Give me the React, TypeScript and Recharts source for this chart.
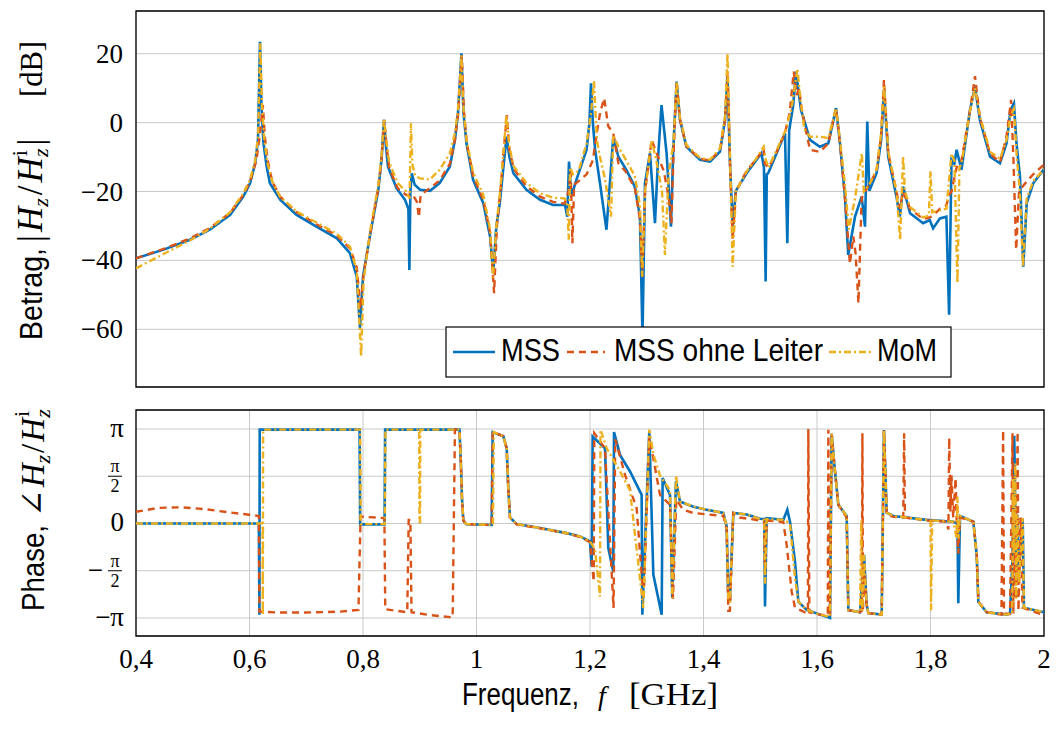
import React from 'react';
import { LineChart, Line, XAxis, YAxis, CartesianGrid, ReferenceArea } from 'recharts';

// ---------- data ----------
const X_TICKS = [0.4, 0.6, 0.8, 1, 1.2, 1.4, 1.6, 1.8, 2];
const X_TICK_LABELS = ['0,4', '0,6', '0,8', '1', '1,2', '1,4', '1,6', '1,8', '2'];
const MAG_TICKS = [-60, -40, -20, 0, 20];
const MAG_TICK_LABELS = ['−60', '−40', '−20', '0', '20'];
const PHASE_TICKS = [-Math.PI, -Math.PI / 2, 0, Math.PI / 2, Math.PI];
const PHASE_TICK_LABELS = ['−π', '−π/2', '0', 'π/2', 'π'];
const SERIES_NAMES = ['MSS', 'MSS ohne Leiter', 'MoM'];

// magnitude [f GHz, dB]
const MSS_MAG: number[][] = [
  [0.40,-39.4],[0.45,-36.8],[0.495,-34.0],[0.53,-31.1],[0.566,-26.8],[0.589,-21.5],[0.601,-17.6],[0.610,-11.8],[0.615,-5],[0.6185,23.5],[0.621,5],[0.6247,-6.0],[0.63,-12.5],[0.636,-17.6],[0.654,-22.4],[0.683,-26.8],[0.718,-30.2],[0.754,-33.6],[0.777,-37.9],[0.789,-44.7],[0.7947,-59.7],[0.800,-44.7],[0.812,-33.1],[0.827,-19.5],[0.833,-10],[0.837,0.8],[0.840,-6],[0.844,-12.8],[0.859,-19.0],[0.874,-22.4],[0.880,-25],[0.8817,-42.8],[0.8835,-20],[0.886,-14.7],[0.891,-18],[0.9004,-19.5],[0.918,-19.8],[0.935,-17.6],[0.953,-12.8],[0.962,-5],[0.9675,3],[0.9735,20.1],[0.977,3],[0.9823,-6.0],[0.994,-16.6],[1.012,-23.4],[1.024,-33.1],[1.0295,-43.7],[1.035,-30],[1.041,-23.4],[1.048,-12],[1.053,-4.1],[1.058,-10],[1.065,-14.7],[1.088,-19.5],[1.112,-22.4],[1.135,-23.9],[1.156,-23.9],[1.160,-27.3],[1.163,-11.3],[1.167,-21.5],[1.176,-16.6],[1.194,-7.9],[1.199,0],[1.2017,11.4],[1.205,0],[1.209,-7.9],[1.2176,-17.6],[1.229,-31.1],[1.235,-17.6],[1.241,-4.1],[1.250,-9.9],[1.264,-13.7],[1.279,-18.6],[1.288,-27.3],[1.2925,-62],[1.2969,-17.6],[1.3057,-8.9],[1.3145,-29.2],[1.320,-10],[1.326,5.1],[1.335,-8.9],[1.3427,-30.2],[1.3467,-7.9],[1.3526,11.9],[1.3585,0.8],[1.370,-7.0],[1.394,-10.8],[1.4115,-11.3],[1.429,-8.4],[1.438,0.8],[1.4423,13.4],[1.4467,-11.8],[1.4514,-30.2],[1.457,-19.8],[1.476,-14.7],[1.4935,-10.8],[1.502,-8.9],[1.5065,-13],[1.5095,-46.1],[1.5115,-15],[1.514,-14.7],[1.5288,-8.9],[1.5436,-3.1],[1.5477,-35.0],[1.551,-2.2],[1.558,5],[1.563,14.8],[1.5718,3.7],[1.5877,-5.0],[1.605,-7.0],[1.620,-6.0],[1.6335,4.2],[1.6405,-6.0],[1.6493,-21.5],[1.655,-38.4],[1.667,-27.3],[1.6787,-21.5],[1.6846,-30.2],[1.6886,0.3],[1.6922,-19.8],[1.705,-14.7],[1.713,-5],[1.718,9.5],[1.7256,-9.9],[1.740,-21.5],[1.746,-27.3],[1.7517,-18.6],[1.764,-26.3],[1.787,-29.2],[1.7986,-28.3],[1.8046,-30.7],[1.8166,-27.8],[1.828,-27.3],[1.8328,-55.8],[1.837,-10.8],[1.842,-12],[1.846,-7.9],[1.8546,-13.7],[1.8696,3.7],[1.8784,10.4],[1.887,0.8],[1.905,-9.9],[1.9225,-11.8],[1.934,-6.0],[1.941,3.7],[1.947,5.6],[1.9515,-6.0],[1.9577,-15.7],[1.9635,-41.8],[1.9695,-23.4],[1.981,-17.6],[2.0,-13.5],
];
const MSS_OL_MAG: number[][] = [
  [0.40,-39.4],[0.45,-36.6],[0.495,-33.6],[0.53,-30.6],[0.566,-26.2],[0.589,-21],[0.601,-17],[0.612,-11],[0.618,-4],[0.6235,5.1],[0.627,-4],[0.632,-11],[0.64,-17],[0.654,-21.5],[0.683,-26],[0.718,-29.5],[0.754,-32.8],[0.777,-36.5],[0.789,-42],[0.7955,-54],[0.801,-44],[0.812,-33],[0.827,-19],[0.833,-10],[0.8375,0.8],[0.841,-6],[0.846,-13],[0.861,-19],[0.876,-21],[0.888,-21],[0.895,-23],[0.8985,-27.5],[0.9015,-21],[0.918,-19],[0.935,-16.8],[0.953,-12],[0.962,-5],[0.968,3],[0.974,19.5],[0.978,3],[0.983,-6],[0.994,-15.5],[1.012,-22.5],[1.024,-32],[1.031,-49.5],[1.036,-30],[1.042,-20],[1.048,-8],[1.0535,2.2],[1.058,-8],[1.066,-13.5],[1.088,-18.5],[1.112,-21.5],[1.135,-23],[1.155,-23.5],[1.162,-20],[1.166,-14],[1.169,-35],[1.172,-18],[1.18,-17],[1.194,-15],[1.205,-11],[1.212,-3],[1.218,3],[1.225,7.1],[1.232,-1],[1.241,-3.1],[1.250,-11.8],[1.262,-14],[1.279,-19],[1.288,-28],[1.292,-44.7],[1.297,-20],[1.3087,-5.0],[1.32,-10],[1.33,-14],[1.339,-22],[1.3435,-29.2],[1.347,-10],[1.3526,12],[1.3585,0.8],[1.370,-7],[1.394,-10.5],[1.4115,-11],[1.429,-8],[1.438,0.8],[1.4423,15],[1.4467,-11.8],[1.4514,-34],[1.457,-20],[1.476,-14],[1.4935,-10.5],[1.500,-9],[1.506,-7.5],[1.508,-12],[1.515,-13],[1.5288,-8.5],[1.5436,-3],[1.552,3],[1.559,14.8],[1.564,8],[1.5687,10],[1.572,5],[1.58,-2],[1.5877,-7.9],[1.605,-8.5],[1.620,-6],[1.6335,4.2],[1.6405,-6],[1.6493,-22],[1.658,-41],[1.664,-33],[1.668,-38],[1.673,-52.4],[1.6787,-22],[1.6846,-20],[1.6922,-18],[1.705,-14],[1.713,-4],[1.718,12.4],[1.7256,-9],[1.740,-20],[1.746,-25],[1.7517,-20],[1.764,-25],[1.787,-28],[1.7986,-27.5],[1.8046,-27],[1.8166,-25],[1.828,-24],[1.833,-21],[1.837,-20],[1.846,-13],[1.8546,-11],[1.8696,3.5],[1.8784,13.5],[1.887,1.5],[1.905,-9],[1.9225,-11.5],[1.934,-4],[1.942,6.6],[1.946,-10],[1.951,-36.9],[1.956,-20],[1.965,-18],[1.981,-15],[2.0,-12.2],
];
const MOM_MAG: number[][] = [
  [0.40,-42.3],[0.45,-38],[0.495,-34.2],[0.53,-30.8],[0.566,-26],[0.589,-20.5],[0.601,-16.5],[0.610,-11],[0.615,-4],[0.619,23],[0.622,5],[0.626,-5],[0.632,-12],[0.64,-17],[0.654,-21.5],[0.683,-25.8],[0.718,-29],[0.754,-32.3],[0.777,-36],[0.789,-43],[0.7967,-67.9],[0.801,-46],[0.812,-32],[0.827,-18],[0.833,-9],[0.837,1.2],[0.841,-5],[0.846,-11.5],[0.861,-17.5],[0.876,-20],[0.882,-22],[0.8845,-0.2],[0.887,-12],[0.892,-15.5],[0.9004,-16.2],[0.918,-16.5],[0.935,-13.7],[0.953,-9],[0.962,-3],[0.9675,4],[0.9735,19.5],[0.977,4],[0.9823,-5],[0.994,-14.5],[1.012,-21],[1.024,-31],[1.029,-45],[1.035,-30],[1.041,-21],[1.048,-8],[1.0525,2.2],[1.058,-7],[1.065,-12.5],[1.088,-17.5],[1.112,-20.5],[1.135,-21.8],[1.155,-22],[1.160,-24],[1.1625,-34],[1.165,-13],[1.17,-15],[1.18,-14],[1.194,-6],[1.202,3],[1.207,12.2],[1.212,-5],[1.2176,-10],[1.226,-16],[1.237,-27.3],[1.241,-3.6],[1.250,-7],[1.264,-11],[1.279,-15.5],[1.288,-24],[1.292,-44.7],[1.2969,-20],[1.3087,-5.0],[1.318,-12],[1.327,-20],[1.332,-38.4],[1.3385,-15],[1.347,-6],[1.3526,12],[1.3585,1.5],[1.370,-6.5],[1.394,-10.3],[1.4115,-10.8],[1.429,-7.5],[1.438,2],[1.4423,20],[1.4467,-10],[1.4514,-41.8],[1.457,-20],[1.476,-14.2],[1.4935,-10.3],[1.500,-8.5],[1.506,-7],[1.510,-11],[1.515,-13],[1.5288,-8],[1.5436,-2.6],[1.555,4],[1.5655,15.7],[1.57,8],[1.5777,-2],[1.5877,-4.1],[1.605,-4.1],[1.620,-4.5],[1.6335,4.2],[1.6405,-5],[1.6493,-18],[1.656,-31],[1.667,-22],[1.679,-8.9],[1.6825,-20],[1.6922,-18],[1.705,-13.5],[1.713,-3],[1.718,10.5],[1.7256,-8.5],[1.740,-20],[1.7465,-34],[1.7517,-9.7],[1.755,-20],[1.764,-24.5],[1.787,-27.5],[1.797,-27],[1.800,-14.1],[1.803,-26],[1.8166,-25.5],[1.828,-25],[1.837,-9],[1.842,-11],[1.8475,-46.6],[1.851,-13],[1.8546,-12],[1.8696,3.5],[1.8784,10],[1.887,2],[1.905,-8.5],[1.9225,-10.5],[1.934,-5],[1.941,2],[1.947,4],[1.952,-10],[1.9575,-20],[1.963,-41.8],[1.9695,-22],[1.981,-17],[2.0,-13.5],
];

// phase [f GHz, rad]
const MSS_PH: number[][] = [
  [0.40,0],[0.6165,0],[0.6175,-3.03],[0.618,3.12],[0.794,3.12],[0.795,-0.03],[0.838,-0.03],[0.839,3.12],[0.970,3.12],[0.9725,2.0],[0.9745,0.8],[0.9768,0.1],[0.982,-0.02],[1.0267,-0.05],[1.0285,3.04],[1.0473,2.9],[1.0532,2.5],[1.056,1.18],[1.059,0.2],[1.0708,-0.02],[1.1119,-0.15],[1.159,-0.32],[1.1824,-0.43],[1.1942,-0.54],[1.2,-0.6],[1.203,-1.43],[1.2047,2.89],[1.2264,2.5],[1.2323,-0.82],[1.241,-1.6],[1.2423,3.04],[1.2529,2.28],[1.2705,1.73],[1.291,0.95],[1.2922,-3.03],[1.3045,3.07],[1.3116,-1.7],[1.3263,-3.03],[1.328,1.51],[1.341,0.95],[1.345,-2.48],[1.3515,1.4],[1.3586,0.73],[1.382,0.56],[1.4056,0.46],[1.4349,0.35],[1.4408,-0.1],[1.4437,-2.5],[1.4465,-2.5],[1.4525,0.35],[1.4761,0.3],[1.4996,0.16],[1.507,0.15],[1.5084,-2.76],[1.5113,0.18],[1.5406,0.12],[1.5477,0.46],[1.5524,0.06],[1.5612,-1.26],[1.5671,-2.6],[1.5818,-2.87],[1.6053,-3.03],[1.6229,-3.14],[1.6258,2.98],[1.6317,1.73],[1.6376,0.62],[1.6523,0.25],[1.6552,-2.88],[1.6758,-2.95],[1.6829,-1.04],[1.6875,-2.7],[1.6905,-2.98],[1.714,-3.03],[1.718,3.11],[1.7228,0.36],[1.7345,0.25],[1.7932,0.12],[1.8402,0.06],[1.8475,0.0],[1.849,-2.65],[1.852,0.25],[1.8755,0.06],[1.8814,-1.04],[1.8843,-2.6],[1.899,-2.95],[1.9343,-3.03],[1.9401,-3.0],[1.9445,-1.2],[1.9476,2.92],[1.9495,0.2],[1.951,-2.0],[1.953,0.3],[1.956,-1.5],[1.9624,0.18],[1.9647,-2.8],[2.0,-2.95],
];
const MSS_OL_PH: number[][] = [
  [0.40,0.39],[0.44,0.52],[0.48,0.54],[0.52,0.48],[0.56,0.38],[0.60,0.29],[0.6165,0.25],[0.6175,-2.93],[0.65,-2.96],[0.70,-2.96],[0.76,-2.93],[0.792,-2.87],[0.7957,0.23],[0.8377,0.18],[0.8392,-2.85],[0.878,-2.95],[0.8805,0.12],[0.8835,0.12],[0.8855,-2.95],[0.92,-3.05],[0.958,-3.12],[0.962,3.13],[0.970,3.12],[0.9725,2.0],[0.9745,0.8],[0.9768,0.1],[0.982,-0.02],[1.0267,-0.05],[1.0285,3.04],[1.0473,2.9],[1.0532,2.5],[1.056,1.18],[1.059,0.2],[1.0708,-0.03],[1.1119,-0.16],[1.159,-0.33],[1.1824,-0.45],[1.1942,-0.56],[1.2,-0.62],[1.2065,-1.93],[1.2076,3.0],[1.2264,2.5],[1.2415,-2.81],[1.2445,2.8],[1.262,1.6],[1.2822,0.51],[1.2945,-2.55],[1.3045,2.9],[1.3233,0.95],[1.341,0.62],[1.3462,-2.5],[1.352,0.8],[1.364,0.46],[1.382,0.35],[1.4349,0.25],[1.4408,-0.2],[1.4437,-2.9],[1.4465,-2.9],[1.4525,0.35],[1.464,0.2],[1.4996,0.1],[1.507,0.05],[1.5084,-1.7],[1.5113,0.1],[1.5406,0.05],[1.5465,-0.71],[1.5554,-2.26],[1.5612,-2.8],[1.5788,-2.95],[1.584,-2.95],[1.5847,3.14],[1.5865,-2.95],[1.6053,-3.03],[1.619,-3.05],[1.620,3.12],[1.6215,-3.05],[1.6229,-3.1],[1.6258,2.98],[1.6317,1.73],[1.6376,0.62],[1.6523,0.2],[1.6552,-2.88],[1.6758,-2.95],[1.679,-2.9],[1.680,3.0],[1.681,-2.9],[1.6829,-1.5],[1.6875,-2.7],[1.6905,-2.98],[1.714,-3.03],[1.718,3.11],[1.7228,0.3],[1.7345,0.22],[1.752,0.2],[1.7535,3.0],[1.755,0.2],[1.7932,0.1],[1.828,0.06],[1.8315,-0.2],[1.833,2.85],[1.835,0.4],[1.837,1.6],[1.840,0.2],[1.8442,1.5],[1.846,0.15],[1.849,-1.0],[1.852,0.2],[1.8755,0.06],[1.8814,-1.04],[1.8843,-2.6],[1.899,-2.95],[1.925,-3.03],[1.928,3.1],[1.9295,-3.0],[1.9401,-3.0],[1.9445,3.0],[1.946,-3.0],[1.948,0.5],[1.9505,-2.5],[1.9535,3.05],[1.955,-2.9],[1.959,0.2],[1.962,-2.8],[2.0,-3.05],
];
const MOM_PH: number[][] = [
  [0.40,0],[0.623,0],[0.6235,-3.05],[0.624,3.12],[0.795,3.12],[0.796,-0.02],[0.8385,-0.02],[0.8395,3.12],[0.899,3.12],[0.8995,0.05],[0.9005,0.05],[0.901,3.12],[0.970,3.12],[0.9725,2.0],[0.9745,0.8],[0.9768,0.1],[0.982,-0.02],[1.029,-0.05],[1.0305,3.04],[1.0473,2.9],[1.0532,2.5],[1.056,1.18],[1.059,0.2],[1.0708,-0.02],[1.1119,-0.15],[1.159,-0.32],[1.1824,-0.43],[1.1942,-0.54],[1.2,-0.6],[1.2088,-0.85],[1.2176,-2.43],[1.2185,3.12],[1.2294,2.5],[1.2529,1.73],[1.2705,1.1],[1.2939,-2.81],[1.3045,3.12],[1.3116,2.3],[1.3233,1.6],[1.341,1.1],[1.345,-2.48],[1.3515,1.6],[1.3586,0.73],[1.382,0.56],[1.4056,0.46],[1.4349,0.35],[1.4408,-0.1],[1.4437,-2.6],[1.4465,-2.6],[1.4525,0.35],[1.4761,0.3],[1.4996,0.15],[1.507,0.12],[1.5084,-2.0],[1.5113,0.15],[1.5406,0.12],[1.5524,0.0],[1.5612,-1.8],[1.5671,-2.6],[1.5818,-2.87],[1.6053,-3.03],[1.6229,-3.1],[1.6258,2.98],[1.6317,1.73],[1.6376,0.62],[1.6523,0.25],[1.6552,-2.88],[1.6758,-2.95],[1.678,0.1],[1.680,-2.9],[1.6829,-1.04],[1.6875,-2.7],[1.6905,-2.98],[1.714,-3.03],[1.718,3.11],[1.7228,0.36],[1.7345,0.25],[1.800,0.1],[1.801,-2.88],[1.803,0.1],[1.8402,0.06],[1.846,-0.5],[1.8475,0.9],[1.849,-0.5],[1.852,0.25],[1.8755,0.06],[1.8814,-1.04],[1.8843,-2.6],[1.899,-2.95],[1.9343,-3.03],[1.944,-3.0],[1.9455,1.5],[1.947,-1.0],[1.9495,2.0],[1.951,-2.5],[1.953,0.3],[1.956,-2.0],[1.9624,0.18],[1.9647,-2.8],[2.0,-2.95],
];

// ---------- style ----------
const C_BLUE = '#0072BD';
const C_RED = '#D95319';
const C_YEL = '#EDB120';
const SERIF = '"Liberation Serif", "DejaVu Serif", serif';
const SANS = '"Liberation Sans", Arial, sans-serif';
const GRID = '#c9c9c9';
const X_DOMAIN: [number, number] = [0.4, 2];
const MAG_DOMAIN: [number, number] = [-76.75, 32.4];
const PH_DOMAIN: [number, number] = [-3.74, 3.773];

const toPts = (a: number[][]) => a.map(([f, v]) => ({ f, v }));

const MagTick = (props: any) => {
  const { x, y, payload } = props;
  const i = MAG_TICKS.indexOf(payload.value);
  return (
    <text x={x - 13} y={y + 9} textAnchor="end" fontFamily={SERIF} fontSize={27} fill="#000">
      {MAG_TICK_LABELS[i]}
    </text>
  );
};

const PhaseTick = (props: any) => {
  const { x, y, payload } = props;
  let i = 0;
  PHASE_TICKS.forEach((t, k) => { if (Math.abs(t - payload.value) < 1e-6) i = k; });
  const lab = PHASE_TICK_LABELS[i];
  if (lab.includes('/2')) {
    const neg = lab.startsWith('−');
    const cx = x - 21;
    return (
      <g>
        {neg && <text x={cx - 12} y={y + 8} textAnchor="end" fontFamily={SERIF} fontSize={27}>−</text>}
        <text x={cx} y={y - 4} textAnchor="middle" fontFamily={SERIF} fontSize={18}>π</text>
        <line x1={cx - 7} x2={cx + 7} y1={y} y2={y} stroke="#000" strokeWidth={1} />
        <text x={cx} y={y + 16} textAnchor="middle" fontFamily={SERIF} fontSize={18}>2</text>
      </g>
    );
  }
  return (
    <text x={x - 12} y={y + 8} textAnchor="end" fontFamily={SERIF} fontSize={27} fill="#000">{lab}</text>
  );
};

const XTick = (props: any) => {
  const { x, y, payload } = props;
  let i = 0;
  X_TICKS.forEach((t, k) => { if (Math.abs(t - payload.value) < 1e-6) i = k; });
  return (
    <text x={x} y={y + 32} textAnchor="middle" fontFamily={SERIF} fontSize={27} fill="#000">{X_TICK_LABELS[i]}</text>
  );
};

const lineProps = [
  { stroke: C_BLUE, strokeWidth: 2.6 },
  { stroke: C_RED, strokeWidth: 2.4, strokeDasharray: '7 5' },
  { stroke: C_YEL, strokeWidth: 2.4, strokeDasharray: '7 3 2 3' },
];

export default function App() {
  const magSeries = [MSS_MAG, MSS_OL_MAG, MOM_MAG];
  const phSeries = [MSS_PH, MSS_OL_PH, MOM_PH];
  return (
    <div style={{ position: 'absolute', left: 0, top: 0, width: 1058, height: 729, background: '#fff' }}>
      <div style={{ position: 'absolute', left: 0, top: 0 }}>
        <LineChart width={1058} height={400} margin={{ top: 11, right: 14, bottom: 13, left: 56 }}>
          <CartesianGrid stroke={GRID} strokeWidth={1} />
          <XAxis dataKey="f" type="number" domain={X_DOMAIN} ticks={X_TICKS} allowDataOverflow
            height={0} tick={false} tickLine={false} axisLine={false} />
          <YAxis type="number" domain={MAG_DOMAIN} ticks={MAG_TICKS} allowDataOverflow width={80}
            tick={<MagTick />} tickLine={false} axisLine={false} tickSize={0} tickMargin={0} />
          {magSeries.map((s, k) => (
            <Line key={k} data={toPts(s)} dataKey="v" name={SERIES_NAMES[k]} type="linear" dot={false}
              isAnimationActive={false} {...lineProps[k]} />
          ))}
          <ReferenceArea x1={0.4} x2={2} y1={MAG_DOMAIN[0]} y2={MAG_DOMAIN[1]} fill="none" fillOpacity={0}
            stroke="#000" strokeWidth={1.3} ifOverflow="visible" />
        </LineChart>
      </div>
      <div style={{ position: 'absolute', left: 0, top: 400 }}>
        <LineChart width={1058} height={329} margin={{ top: 10, right: 14, bottom: 43, left: 56 }}>
          <CartesianGrid stroke={GRID} strokeWidth={1} />
          <XAxis dataKey="f" type="number" domain={X_DOMAIN} ticks={X_TICKS} allowDataOverflow
            height={50} tick={<XTick />} tickLine={false} axisLine={false} tickSize={0} tickMargin={0} />
          <YAxis type="number" domain={PH_DOMAIN} ticks={PHASE_TICKS} allowDataOverflow width={80}
            tick={<PhaseTick />} tickLine={false} axisLine={false} tickSize={0} tickMargin={0} />
          {phSeries.map((s, k) => (
            <Line key={k} data={toPts(s)} dataKey="v" name={SERIES_NAMES[k]} type="linear" dot={false}
              isAnimationActive={false} {...lineProps[k]} />
          ))}
          <ReferenceArea x1={0.4} x2={2} y1={PH_DOMAIN[0]} y2={PH_DOMAIN[1]} fill="none" fillOpacity={0}
            stroke="#000" strokeWidth={1.3} ifOverflow="visible" />
        </LineChart>
      </div>
      <svg width={1058} height={729} style={{ position: 'absolute', left: 0, top: 0, pointerEvents: 'none' }}>
        {/* legend */}
        <rect x={446} y={327} width={505} height={50} fill="#fff" stroke="#000" strokeWidth={1.2} />
        <line x1={453} x2={495} y1={352} y2={352} stroke={C_BLUE} strokeWidth={2.6} />
        <text x={501} y={361} fontFamily={SANS} fontSize={31} textLength={59} lengthAdjust="spacingAndGlyphs">{SERIES_NAMES[0]}</text>
        <line x1={567} x2={605} y1={352} y2={352} stroke={C_RED} strokeWidth={2.4} strokeDasharray="7 5" />
        <text x={614} y={361} fontFamily={SANS} fontSize={31} textLength={209} lengthAdjust="spacingAndGlyphs">{SERIES_NAMES[1]}</text>
        <line x1={829} x2={872} y1={352} y2={352} stroke={C_YEL} strokeWidth={2.4} strokeDasharray="7 3 2 3" />
        <text x={877} y={361} fontFamily={SANS} fontSize={31} textLength={60} lengthAdjust="spacingAndGlyphs">{SERIES_NAMES[2]}</text>

        {/* x title */}
        <text x={462} y={705} fontFamily={SANS} fontSize={31} textLength={117} lengthAdjust="spacingAndGlyphs">Frequenz,</text>
        <text x={598} y={705} fontFamily={SERIF} fontStyle="italic" fontSize={28}>f</text>
        <text x={629} y={705} fontFamily={SERIF} fontSize={31} textLength={89} lengthAdjust="spacingAndGlyphs">[GHz]</text>

        {/* y title top */}
        <g transform="translate(42,0) rotate(-90)">
          <text x={-340} y={0} fontFamily={SANS} fontSize={32} textLength={92} lengthAdjust="spacingAndGlyphs">Betrag,</text>
          <text x={-242} y={0} fontFamily={SERIF} fontSize={35}>
            <tspan>|</tspan>
            <tspan fontStyle="italic" dx={3}>H</tspan>
            <tspan fontStyle="italic" fontSize={22} dy={6}>z</tspan>
            <tspan dy={-6} dx={3}>/</tspan>
            <tspan fontStyle="italic" dx={3}>H</tspan>
            <tspan fontSize={22} dy={-15} dx={1}>i</tspan>
            <tspan fontStyle="italic" fontSize={22} dx={-7} dy={21}>z</tspan>
            <tspan dy={-6} dx={3}>|</tspan>
          </text>
          <text x={-97} y={0} fontFamily={SERIF} fontSize={32} textLength={56} lengthAdjust="spacingAndGlyphs">[dB]</text>
        </g>
        {/* y title bottom */}
        <g transform="translate(44,0) rotate(-90)">
          <text x={-611} y={0} fontFamily={SANS} fontSize={32} textLength={86} lengthAdjust="spacingAndGlyphs">Phase,</text>
          <text x={-517} y={0} fontFamily={SERIF} fontSize={33}>
            <tspan>∠</tspan>
            <tspan fontStyle="italic" dx={2}>H</tspan>
            <tspan fontStyle="italic" fontSize={22} dy={6}>z</tspan>
            <tspan dy={-6} dx={2}>/</tspan>
            <tspan fontStyle="italic" dx={2}>H</tspan>
            <tspan fontSize={22} dy={-15} dx={1}>i</tspan>
            <tspan fontStyle="italic" fontSize={22} dx={-7} dy={21}>z</tspan>
          </text>
        </g>
      </svg>
    </div>
  );
}
